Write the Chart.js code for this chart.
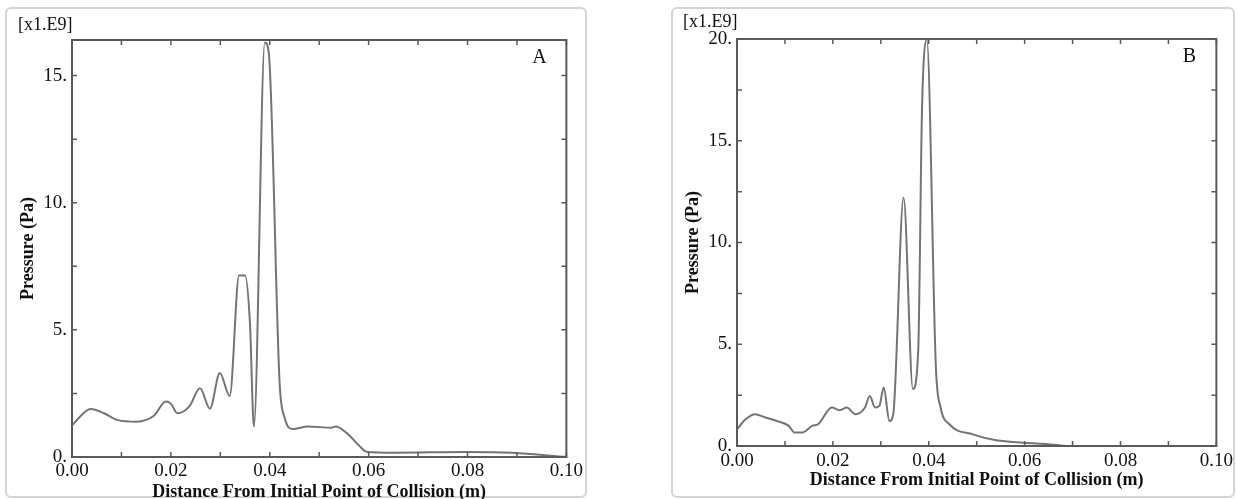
<!DOCTYPE html>
<html>
<head>
<meta charset="utf-8">
<script src="https://cdn.jsdelivr.net/npm/chart.js@4.4.1/dist/chart.umd.min.js"></script>
<style>
  body { margin: 0; background: #fff; width: 1237px; height: 499px; position: relative; overflow: hidden; }
  .frame { position: absolute; border: 2px solid #d4d4d4; border-radius: 6px; box-sizing: border-box; }
  .wrap { position: absolute; }
</style>
</head>
<body>
<div class="frame" style="left:5px;top:7px;width:582px;height:491px"></div>
<div class="frame" style="left:671px;top:7px;width:564px;height:491px"></div>
<div class="wrap" style="left:5px;top:7px;width:581px;height:492px"><canvas id="chartA"></canvas></div>
<div class="wrap" style="left:672px;top:7px;width:565px;height:492px"><canvas id="chartB"></canvas></div>
<script>
// panel A - distance (m) and pressure (x1e9 Pa)
const xA = [0, 0.0038, 0.0065, 0.0093, 0.013, 0.0165, 0.019, 0.020, 0.0213, 0.0237, 0.0259, 0.0279, 0.0299, 0.0319,
  0.0338, 0.035, 0.036, 0.0368, 0.039, 0.0398, 0.042, 0.043, 0.0447, 0.0477, 0.0525, 0.0533, 0.0557, 0.058,
  0.0597, 0.065, 0.0796, 0.089, 0.1];
const pA = [1.25, 1.89, 1.72, 1.45, 1.39, 1.61, 2.18, 2.1, 1.72, 1.98, 2.7, 1.9, 3.3, 2.4,
  7.14, 7.14, 5.25, 1.2, 16.3, 15.9, 2.9, 1.55, 1.1, 1.2, 1.15, 1.2, 0.92, 0.46,
  0.2, 0.17, 0.2, 0.17, 0.0];

// panel B
const xB = [0, 0.0018, 0.0038, 0.0059, 0.0083, 0.0108, 0.012, 0.0136, 0.0157, 0.0169, 0.0198, 0.0214, 0.0229, 0.0247,
  0.0267, 0.0277, 0.0288, 0.0297, 0.0306, 0.0318, 0.0326, 0.03475, 0.0367, 0.0378, 0.0386, 0.0396, 0.0415, 0.0425,
  0.0443, 0.0492, 0.0541, 0.0598, 0.0655, 0.0688, 0.1];
const pB = [0.82, 1.31, 1.56, 1.4, 1.23, 0.99, 0.66, 0.66, 0.99, 1.07, 1.89, 1.76, 1.89, 1.56,
  1.89, 2.46, 1.89, 1.97, 2.87, 1.23, 1.57, 12.2, 2.8, 4.67, 16.6, 19.95, 3.8, 1.87,
  1.07, 0.57, 0.28, 0.16, 0.08, 0, 0];

const yMaxA = 16.4;
const yMaxB = 20;
const xTitle = 'Distance From Initial Point of Collision (m)';
const yTitle = 'Pressure (Pa)';
const unitLabel = '[x1.E9]';

const serif = '"Liberation Serif", "DejaVu Serif", serif';

// box round the plot, inward tick marks, letter and unit text
const frameTicks = {
  id: 'frameTicks',
  afterDatasetsDraw(chart, args, opts) {
    const {ctx, chartArea: a, scales: {x, y}} = chart;
    ctx.save();
    ctx.strokeStyle = '#5a5a5a';
    ctx.lineWidth = 2;
    ctx.strokeRect(a.left, a.top, a.right - a.left, a.bottom - a.top);
    ctx.lineWidth = 1.5;
    ctx.beginPath();
    x.ticks.forEach(t => {
      const px = x.getPixelForValue(t.value);
      ctx.moveTo(px, a.bottom); ctx.lineTo(px, a.bottom - 5);
      ctx.moveTo(px, a.top); ctx.lineTo(px, a.top + 5);
    });
    y.ticks.forEach(t => {
      const py = y.getPixelForValue(t.value);
      ctx.moveTo(a.left, py); ctx.lineTo(a.left + 5, py);
      ctx.moveTo(a.right, py); ctx.lineTo(a.right - 5, py);
    });
    ctx.stroke();
    ctx.fillStyle = '#111';
    ctx.font = '20px ' + serif;
    ctx.textAlign = 'center';
    ctx.textBaseline = 'middle';
    ctx.fillText(opts.letter, a.right - 27, a.top + 18);
    ctx.font = '18px ' + serif;
    ctx.textAlign = 'left';
    ctx.fillText(unitLabel, a.left - 54, a.top - opts.unitUp);
    ctx.restore();
  }
};

function makeChart(el, xs, ys, yMax, letter, pad, yW, xH, yTitlePad, xTitlePad, xTickPad, unitUp) {
  return new Chart(document.getElementById(el), {
    type: 'line',
    data: {
      datasets: [{
        data: xs.map((v, i) => ({x: v, y: ys[i]})),
        borderColor: '#747474',
        borderWidth: 2,
        pointRadius: 0,
        cubicInterpolationMode: 'monotone'
      }]
    },
    options: {
      responsive: true,
      maintainAspectRatio: false,
      animation: false,
      layout: {padding: pad},
      plugins: {legend: {display: false}, tooltip: {enabled: false}, frameTicks: {letter: letter, unitUp: unitUp}},
      scales: {
        x: {
          type: 'linear', min: 0, max: 0.1,
          grid: {display: false, drawTicks: false},
          border: {display: false},
          afterFit: s => { s.height = xH; },
          ticks: {
            stepSize: 0.01, autoSkip: false, maxRotation: 0, padding: xTickPad,
            color: '#111', font: {family: serif, size: 19},
            callback: v => Math.round(v * 100) % 2 === 0 ? v.toFixed(2) : ''
          },
          title: {display: true, text: xTitle, color: '#111', padding: {top: 0, bottom: xTitlePad},
            font: {family: serif, size: 18, weight: 'bold', lineHeight: 1}}
        },
        y: {
          type: 'linear', min: 0, max: yMax,
          grid: {display: false, drawTicks: false},
          border: {display: false},
          afterFit: s => { s.width = yW; },
          ticks: {
            stepSize: 2.5, includeBounds: false, padding: 5,
            color: '#111', font: {family: serif, size: 19},
            callback: v => v % 5 === 0 ? v + '.' : ''
          },
          title: {display: true, text: yTitle, color: '#111', padding: {top: yTitlePad, bottom: 0},
            font: {family: serif, size: 18, weight: 'bold', lineHeight: 1}}
        }
      }
    },
    plugins: [frameTicks]
  });
}

makeChart('chartA', xA, pA, yMaxA, 'A', {top: 33, right: 19, left: 0, bottom: 0}, 67, 42, 14, -2, 3, 15);
makeChart('chartB', xB, pB, yMaxB, 'B', {top: 32, right: 18, left: 0, bottom: 0}, 65, 53, 12, 10, 4, 17);
</script>
</body>
</html>
